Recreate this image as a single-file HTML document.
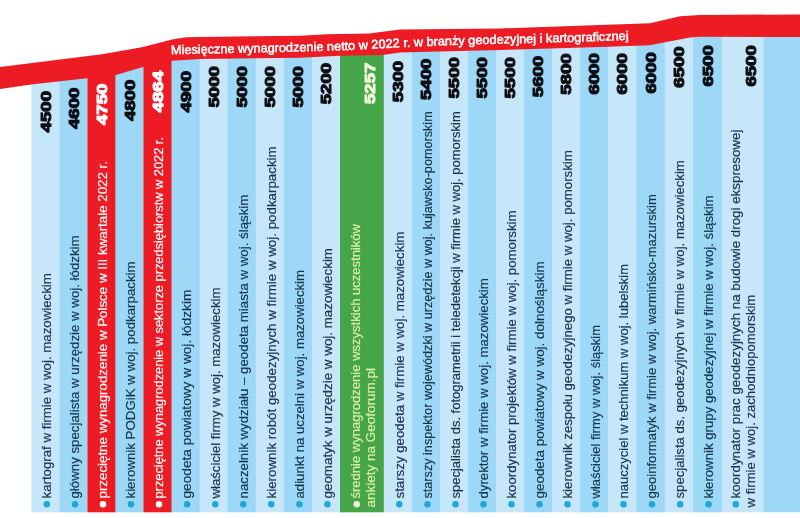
<!DOCTYPE html>
<html><head><meta charset="utf-8"><title>Wynagrodzenia</title>
<style>
html,body{margin:0;padding:0;background:#fff;}
body{width:800px;height:518px;overflow:hidden;font-family:"Liberation Sans",sans-serif;}
svg{display:block;will-change:transform;}
text{font-family:"Liberation Sans",sans-serif;}
.lab{font-size:13.3px;stroke-width:0.18;}
.num{font-size:14.2px;font-weight:bold;stroke-width:1.0;stroke-linejoin:round;}
.ttl{font-size:12.5px;font-weight:normal;fill:#fff;stroke:#fff;stroke-width:0.5;}
</style></head><body>
<svg width="800" height="518" viewBox="0 0 800 518">
<rect x="31.3" y="75.3" width="28.5" height="437.0" fill="#c6e6fa"/>
<rect x="59.5" y="72.2" width="28.3" height="440.1" fill="#9dd8f6"/>
<rect x="87.5" y="69.1" width="28.3" height="443.2" fill="#ed1c24"/>
<rect x="115.5" y="60.9" width="28.3" height="451.4" fill="#9dd8f6"/>
<rect x="143.5" y="54.9" width="28.4" height="457.4" fill="#ed1c24"/>
<rect x="171.6" y="53.0" width="28.5" height="459.3" fill="#9dd8f6"/>
<rect x="199.8" y="52.7" width="28.3" height="459.6" fill="#c6e6fa"/>
<rect x="227.8" y="52.3" width="28.3" height="460.0" fill="#9dd8f6"/>
<rect x="255.8" y="52.0" width="28.4" height="460.3" fill="#c6e6fa"/>
<rect x="283.9" y="51.2" width="28.3" height="461.1" fill="#9dd8f6"/>
<rect x="311.9" y="49.8" width="28.4" height="462.5" fill="#c6e6fa"/>
<rect x="340.0" y="48.8" width="44.1" height="463.5" fill="#46a548"/>
<rect x="383.8" y="46.2" width="28.5" height="466.1" fill="#c6e6fa"/>
<rect x="412.0" y="45.5" width="28.3" height="466.8" fill="#9dd8f6"/>
<rect x="440.0" y="44.8" width="28.3" height="467.5" fill="#c6e6fa"/>
<rect x="468.0" y="44.1" width="28.3" height="468.2" fill="#9dd8f6"/>
<rect x="496.0" y="43.3" width="28.3" height="469.0" fill="#c6e6fa"/>
<rect x="524.0" y="42.4" width="28.3" height="469.9" fill="#9dd8f6"/>
<rect x="552.0" y="41.6" width="28.3" height="470.7" fill="#c6e6fa"/>
<rect x="580.0" y="40.7" width="28.3" height="471.6" fill="#9dd8f6"/>
<rect x="608.0" y="39.8" width="28.8" height="472.5" fill="#c6e6fa"/>
<rect x="636.5" y="36.3" width="28.5" height="476.0" fill="#9dd8f6"/>
<rect x="664.7" y="31.4" width="28.6" height="480.9" fill="#c6e6fa"/>
<rect x="693.0" y="30.8" width="29.1" height="481.5" fill="#9dd8f6"/>
<rect x="721.8" y="30.8" width="42.3" height="481.5" fill="#c6e6fa"/>
<rect x="763.8" y="30.9" width="36.2" height="481.4" fill="#9dd8f6"/>
<polygon fill="#ed1c24" points="0.0,67.0 50.0,60.7 100.0,54.5 115.0,52.0 143.0,47.0 172.0,39.5 186.0,37.3 200.0,37.0 300.0,35.8 327.0,34.2 369.0,33.6 400.0,29.5 500.0,28.4 600.0,25.0 650.0,23.2 680.0,16.3 700.0,15.0 800.0,14.4 800.0,37.0 700.0,36.8 690.0,37.6 660.0,43.2 650.0,45.3 600.0,47.0 500.0,50.0 400.0,52.5 383.0,54.9 340.0,55.8 300.0,57.8 200.0,59.0 172.0,60.8 143.0,67.0 115.0,75.2 87.0,78.3 31.0,84.5 0.0,89.0"/>
<path id="tp" fill="none" d="M171,54.3 L200,53.6 L250,52.6 L300,51.4 L350,50 L400,47.2 L450,45 L500,43.6 L550,42.4 L600,41 L640,39.4"/>
<text class="ttl"><textPath href="#tp" textLength="458" lengthAdjust="spacingAndGlyphs">Miesięczne wynagrodzenie netto w 2022 r. w branży geodezyjnej i kartograficznej</textPath></text>
<text class="num" fill="#0d0d12" stroke="#0d0d12" transform="translate(50.5,132.4) rotate(-90)" textLength="41.4" lengthAdjust="spacingAndGlyphs">4500</text>
<text class="num" fill="#0d0d12" stroke="#0d0d12" transform="translate(78.6,129.0) rotate(-90)" textLength="41.4" lengthAdjust="spacingAndGlyphs">4600</text>
<text class="num" fill="#fff" stroke="#fff" transform="translate(106.6,125.0) rotate(-90)" textLength="41.4" lengthAdjust="spacingAndGlyphs">4750</text>
<text class="num" fill="#0d0d12" stroke="#0d0d12" transform="translate(134.6,121.1) rotate(-90)" textLength="41.4" lengthAdjust="spacingAndGlyphs">4800</text>
<text class="num" fill="#fff" stroke="#fff" transform="translate(162.7,112.4) rotate(-90)" textLength="41.4" lengthAdjust="spacingAndGlyphs">4864</text>
<text class="num" fill="#0d0d12" stroke="#0d0d12" transform="translate(190.8,112.4) rotate(-90)" textLength="41.4" lengthAdjust="spacingAndGlyphs">4900</text>
<text class="num" fill="#0d0d12" stroke="#0d0d12" transform="translate(218.9,107.5) rotate(-90)" textLength="41.4" lengthAdjust="spacingAndGlyphs">5000</text>
<text class="num" fill="#0d0d12" stroke="#0d0d12" transform="translate(246.9,107.5) rotate(-90)" textLength="41.4" lengthAdjust="spacingAndGlyphs">5000</text>
<text class="num" fill="#0d0d12" stroke="#0d0d12" transform="translate(275.0,107.5) rotate(-90)" textLength="41.4" lengthAdjust="spacingAndGlyphs">5000</text>
<text class="num" fill="#0d0d12" stroke="#0d0d12" transform="translate(303.0,107.5) rotate(-90)" textLength="41.4" lengthAdjust="spacingAndGlyphs">5000</text>
<text class="num" fill="#0d0d12" stroke="#0d0d12" transform="translate(331.1,104.3) rotate(-90)" textLength="41.4" lengthAdjust="spacingAndGlyphs">5200</text>
<text class="num" fill="#eef8da" stroke="#eef8da" transform="translate(374.5,104.0) rotate(-90)" textLength="41.4" lengthAdjust="spacingAndGlyphs">5257</text>
<text class="num" fill="#0d0d12" stroke="#0d0d12" transform="translate(403.0,102.2) rotate(-90)" textLength="41.4" lengthAdjust="spacingAndGlyphs">5300</text>
<text class="num" fill="#0d0d12" stroke="#0d0d12" transform="translate(431.1,100.0) rotate(-90)" textLength="41.4" lengthAdjust="spacingAndGlyphs">5400</text>
<text class="num" fill="#0d0d12" stroke="#0d0d12" transform="translate(459.1,98.5) rotate(-90)" textLength="41.4" lengthAdjust="spacingAndGlyphs">5500</text>
<text class="num" fill="#0d0d12" stroke="#0d0d12" transform="translate(487.1,98.5) rotate(-90)" textLength="41.4" lengthAdjust="spacingAndGlyphs">5500</text>
<text class="num" fill="#0d0d12" stroke="#0d0d12" transform="translate(515.1,98.5) rotate(-90)" textLength="41.4" lengthAdjust="spacingAndGlyphs">5500</text>
<text class="num" fill="#0d0d12" stroke="#0d0d12" transform="translate(543.1,97.2) rotate(-90)" textLength="41.4" lengthAdjust="spacingAndGlyphs">5600</text>
<text class="num" fill="#0d0d12" stroke="#0d0d12" transform="translate(571.1,94.8) rotate(-90)" textLength="41.4" lengthAdjust="spacingAndGlyphs">5800</text>
<text class="num" fill="#0d0d12" stroke="#0d0d12" transform="translate(599.1,94.6) rotate(-90)" textLength="41.4" lengthAdjust="spacingAndGlyphs">6000</text>
<text class="num" fill="#0d0d12" stroke="#0d0d12" transform="translate(627.4,94.5) rotate(-90)" textLength="41.4" lengthAdjust="spacingAndGlyphs">6000</text>
<text class="num" fill="#0d0d12" stroke="#0d0d12" transform="translate(655.7,93.5) rotate(-90)" textLength="41.4" lengthAdjust="spacingAndGlyphs">6000</text>
<text class="num" fill="#0d0d12" stroke="#0d0d12" transform="translate(684.0,87.8) rotate(-90)" textLength="41.4" lengthAdjust="spacingAndGlyphs">6500</text>
<text class="num" fill="#0d0d12" stroke="#0d0d12" transform="translate(712.5,86.6) rotate(-90)" textLength="41.4" lengthAdjust="spacingAndGlyphs">6500</text>
<text class="num" fill="#0d0d12" stroke="#0d0d12" transform="translate(756.4,86.6) rotate(-90)" textLength="41.4" lengthAdjust="spacingAndGlyphs">6500</text>
<circle cx="46.8" cy="504.3" r="3.25" fill="#1ea7dc"/>
<text class="lab" fill="#17344a" stroke="#17344a" transform="translate(51.0,498.5) rotate(-90)" textLength="225.3" lengthAdjust="spacingAndGlyphs">kartograf w firmie w woj. mazowieckim</text>
<circle cx="75.0" cy="504.3" r="3.25" fill="#1ea7dc"/>
<text class="lab" fill="#17344a" stroke="#17344a" transform="translate(79.2,498.5) rotate(-90)" textLength="263.0" lengthAdjust="spacingAndGlyphs">główny specjalista w urzędzie w woj. łódzkim</text>
<circle cx="103.0" cy="504.3" r="3.25" fill="#fff"/>
<text class="lab" fill="#fff" stroke="#fff" transform="translate(107.2,498.5) rotate(-90)" textLength="337.5" lengthAdjust="spacingAndGlyphs">przeciętne wynagrodzenie w Polsce w III kwartale 2022 r.</text>
<circle cx="131.0" cy="504.3" r="3.25" fill="#1ea7dc"/>
<text class="lab" fill="#17344a" stroke="#17344a" transform="translate(135.2,498.5) rotate(-90)" textLength="237.1" lengthAdjust="spacingAndGlyphs">kierownik PODGiK w woj. podkarpackim</text>
<circle cx="159.0" cy="504.3" r="3.25" fill="#fff"/>
<text class="lab" fill="#fff" stroke="#fff" transform="translate(163.2,498.5) rotate(-90)" textLength="361.5" lengthAdjust="spacingAndGlyphs">przeciętne wynagrodzenie w sektorze przedsiębiorstw w 2022 r.</text>
<circle cx="187.1" cy="504.3" r="3.25" fill="#1ea7dc"/>
<text class="lab" fill="#17344a" stroke="#17344a" transform="translate(191.3,498.5) rotate(-90)" textLength="208.8" lengthAdjust="spacingAndGlyphs">geodeta powiatowy w woj. łódzkim</text>
<circle cx="215.3" cy="504.3" r="3.25" fill="#1ea7dc"/>
<text class="lab" fill="#17344a" stroke="#17344a" transform="translate(219.5,498.5) rotate(-90)" textLength="210.9" lengthAdjust="spacingAndGlyphs">właściciel firmy w woj. mazowieckim</text>
<circle cx="243.3" cy="504.3" r="3.25" fill="#1ea7dc"/>
<text class="lab" fill="#17344a" stroke="#17344a" transform="translate(247.5,498.5) rotate(-90)" textLength="303.8" lengthAdjust="spacingAndGlyphs">naczelnik wydziału – geodeta miasta w woj. śląskim</text>
<circle cx="271.3" cy="504.3" r="3.25" fill="#1ea7dc"/>
<text class="lab" fill="#17344a" stroke="#17344a" transform="translate(275.5,498.5) rotate(-90)" textLength="352.2" lengthAdjust="spacingAndGlyphs">kierownik robót geodezyjnych w firmie w woj. podkarpackim</text>
<circle cx="299.4" cy="504.3" r="3.25" fill="#1ea7dc"/>
<text class="lab" fill="#17344a" stroke="#17344a" transform="translate(303.6,498.5) rotate(-90)" textLength="228.5" lengthAdjust="spacingAndGlyphs">adiunkt na uczelni w woj. mazowieckim</text>
<circle cx="327.4" cy="504.3" r="3.25" fill="#1ea7dc"/>
<text class="lab" fill="#17344a" stroke="#17344a" transform="translate(331.6,498.5) rotate(-90)" textLength="250.5" lengthAdjust="spacingAndGlyphs">geomatyk w urzędzie w woj. mazowieckim</text>
<circle cx="356.7" cy="504.3" r="3.25" fill="#eef7d5"/>
<text class="lab" fill="#ddf0a0" stroke="#ddf0a0" transform="translate(359.5,498.5) rotate(-90)" textLength="274.5" lengthAdjust="spacingAndGlyphs">średnie wynagrodzenie wszystkich uczestników</text>
<text class="lab" fill="#ddf0a0" stroke="#ddf0a0" transform="translate(374.5,507.4) rotate(-90)" textLength="139.4" lengthAdjust="spacingAndGlyphs">ankiety na Geoforum.pl</text>
<circle cx="399.3" cy="504.3" r="3.25" fill="#1ea7dc"/>
<text class="lab" fill="#17344a" stroke="#17344a" transform="translate(403.5,498.5) rotate(-90)" textLength="266.9" lengthAdjust="spacingAndGlyphs">starszy geodeta w firmie w woj. mazowieckim</text>
<circle cx="427.5" cy="504.3" r="3.25" fill="#1ea7dc"/>
<text class="lab" fill="#17344a" stroke="#17344a" transform="translate(431.7,498.5) rotate(-90)" textLength="387.2" lengthAdjust="spacingAndGlyphs">starszy inspektor wojewódzki w urzędzie w woj. kujawsko-pomorskim</text>
<circle cx="455.5" cy="504.3" r="3.25" fill="#1ea7dc"/>
<text class="lab" fill="#17344a" stroke="#17344a" transform="translate(459.7,498.5) rotate(-90)" textLength="387.2" lengthAdjust="spacingAndGlyphs">specjalista ds. fotogrametrii i teledetekcji w firmie w woj. pomorskim</text>
<circle cx="483.5" cy="504.3" r="3.25" fill="#1ea7dc"/>
<text class="lab" fill="#17344a" stroke="#17344a" transform="translate(487.7,498.5) rotate(-90)" textLength="220.3" lengthAdjust="spacingAndGlyphs">dyrektor w firmie w woj. mazowieckim</text>
<circle cx="511.5" cy="504.3" r="3.25" fill="#1ea7dc"/>
<text class="lab" fill="#17344a" stroke="#17344a" transform="translate(515.7,498.5) rotate(-90)" textLength="288.0" lengthAdjust="spacingAndGlyphs">koordynator projektów w firmie w woj. pomorskim</text>
<circle cx="539.5" cy="504.3" r="3.25" fill="#1ea7dc"/>
<text class="lab" fill="#17344a" stroke="#17344a" transform="translate(543.7,498.5) rotate(-90)" textLength="237.1" lengthAdjust="spacingAndGlyphs">geodeta powiatowy w woj. dolnośląskim</text>
<circle cx="567.5" cy="504.3" r="3.25" fill="#1ea7dc"/>
<text class="lab" fill="#17344a" stroke="#17344a" transform="translate(571.7,498.5) rotate(-90)" textLength="348.3" lengthAdjust="spacingAndGlyphs">kierownik zespołu geodezyjnego w firmie w woj. pomorskim</text>
<circle cx="595.5" cy="504.3" r="3.25" fill="#1ea7dc"/>
<text class="lab" fill="#17344a" stroke="#17344a" transform="translate(599.7,498.5) rotate(-90)" textLength="173.6" lengthAdjust="spacingAndGlyphs">właściciel firmy w woj. śląskim</text>
<circle cx="623.5" cy="504.3" r="3.25" fill="#1ea7dc"/>
<text class="lab" fill="#17344a" stroke="#17344a" transform="translate(627.7,498.5) rotate(-90)" textLength="234.6" lengthAdjust="spacingAndGlyphs">nauczyciel w technikum w woj. lubelskim</text>
<circle cx="652.0" cy="504.3" r="3.25" fill="#1ea7dc"/>
<text class="lab" fill="#17344a" stroke="#17344a" transform="translate(656.2,498.5) rotate(-90)" textLength="304.4" lengthAdjust="spacingAndGlyphs">geoinformatyk w firmie w woj. warmińsko-mazurskim</text>
<circle cx="680.2" cy="504.3" r="3.25" fill="#1ea7dc"/>
<text class="lab" fill="#17344a" stroke="#17344a" transform="translate(684.4,498.5) rotate(-90)" textLength="338.3" lengthAdjust="spacingAndGlyphs">specjalista ds. geodezyjnych w firmie w woj. mazowieckim</text>
<circle cx="708.5" cy="504.3" r="3.25" fill="#1ea7dc"/>
<text class="lab" fill="#17344a" stroke="#17344a" transform="translate(712.7,498.5) rotate(-90)" textLength="303.1" lengthAdjust="spacingAndGlyphs">kierownik grupy geodezyjnej w firmie w woj. śląskim</text>
<circle cx="735.8" cy="504.3" r="3.25" fill="#1ea7dc"/>
<text class="lab" fill="#17344a" stroke="#17344a" transform="translate(740.0,498.5) rotate(-90)" textLength="368.9" lengthAdjust="spacingAndGlyphs">koordynator prac geodezyjnych na budowie drogi ekspresowej</text>
<text class="lab" fill="#17344a" stroke="#17344a" transform="translate(755.0,507.4) rotate(-90)" textLength="212.7" lengthAdjust="spacingAndGlyphs">w firmie w woj. zachodniopomorskim</text>
</svg>
</body></html>
